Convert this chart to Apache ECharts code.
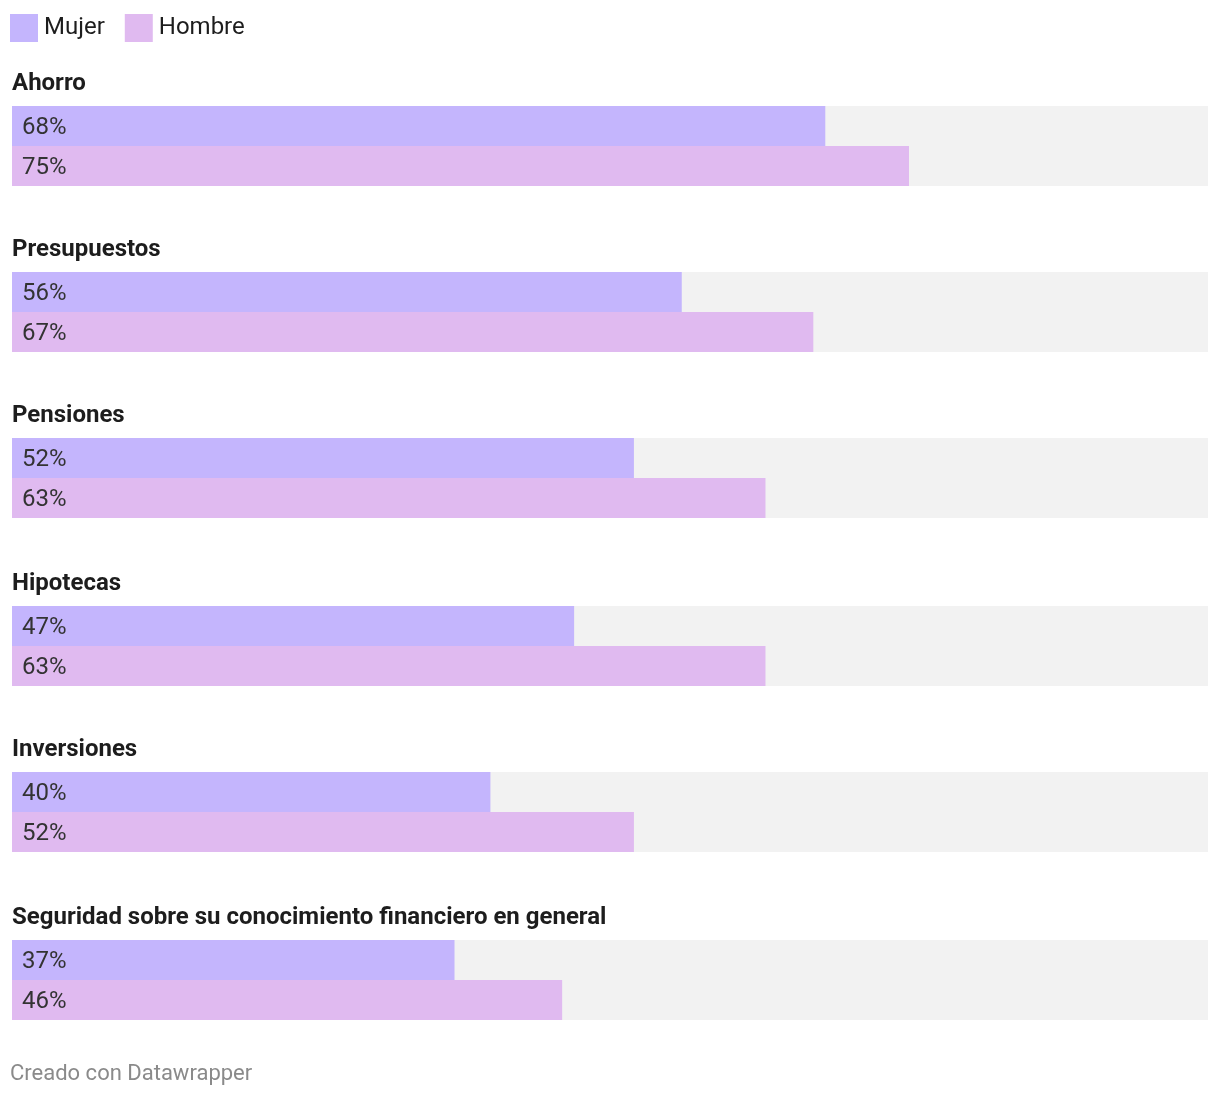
<!DOCTYPE html>
<html>
<head>
<meta charset="utf-8">
<script src="https://cdn.jsdelivr.net/npm/echarts@6/dist/echarts.min.js"></script>
<style>
html,body{margin:0;padding:0;background:#fff;}
#chart{width:1220px;height:1096px;}
</style>
</head>
<body>
<div id="chart"></div>
<script>
const categories = ['Ahorro','Presupuestos','Pensiones','Hipotecas','Inversiones','Seguridad sobre su conocimiento financiero en general'];
const mujer = [68, 56, 52, 47, 40, 37];
const hombre = [75, 67, 63, 63, 52, 46];
const seriesNames = ['Mujer','Hombre'];

// layout
const groupTops = [106, 272, 438, 606, 772, 940];
const colors = ['#c4b5fd', '#e0baf0'];
const font = 'Roboto, "Noto Sans", sans-serif';
const chart = echarts.init(document.getElementById('chart'), null, {renderer:'canvas'});

const grids = [], xAxes = [], yAxes = [], series = [], titles = [];
categories.forEach((c, i) => {
  const top = groupTops[i];
  grids.push({left: 12, right: 12, top: top, height: 80, containLabel: false});
  xAxes.push({type:'value', gridIndex:i, min:0, max:100, show:false});
  yAxes.push({type:'category', gridIndex:i, data:[c], inverse:true, show:false});
  titles.push({text: c, left: 12, top: top - 34, padding: 0,
    textStyle:{fontFamily: font, fontSize: 24, fontWeight: 'bold', color:'#1d1d1d'}});
  [mujer, hombre].forEach((arr, k) => {
    series.push({
      type:'bar', name: seriesNames[k], xAxisIndex:i, yAxisIndex:i,
      data:[arr[i]], barWidth:40, barGap:'0%',
      itemStyle:{color: colors[k]},
      showBackground:true, backgroundStyle:{color:'#f2f2f2'},
      label:{show:true, position:'insideLeft', distance:10, offset:[0,2], formatter:'{c}%',
        fontFamily: font, fontSize: 24, color:'#333'},
      emphasis:{disabled:true}, silent:true, animation:false
    });
  });
});

titles.push({text:'Creado con Datawrapper', left:10, top:1063, padding:0,
  textStyle:{fontFamily: font, fontSize: 22, fontWeight:'normal', color:'#8a8a8a'}});

chart.setOption({
  animation:false,
  color: colors,
  title: titles,
  legend:{data: seriesNames, left: 10, top: 14, padding: 0, icon:'rect', itemWidth:28, itemHeight:28, itemGap:20,
    textStyle:{fontFamily: font, fontSize: 24, color:'#1d1d1d', padding:[0,0,0,1]}},
  grid: grids, xAxis: xAxes, yAxis: yAxes, series: series
});
</script>
</body>
</html>
